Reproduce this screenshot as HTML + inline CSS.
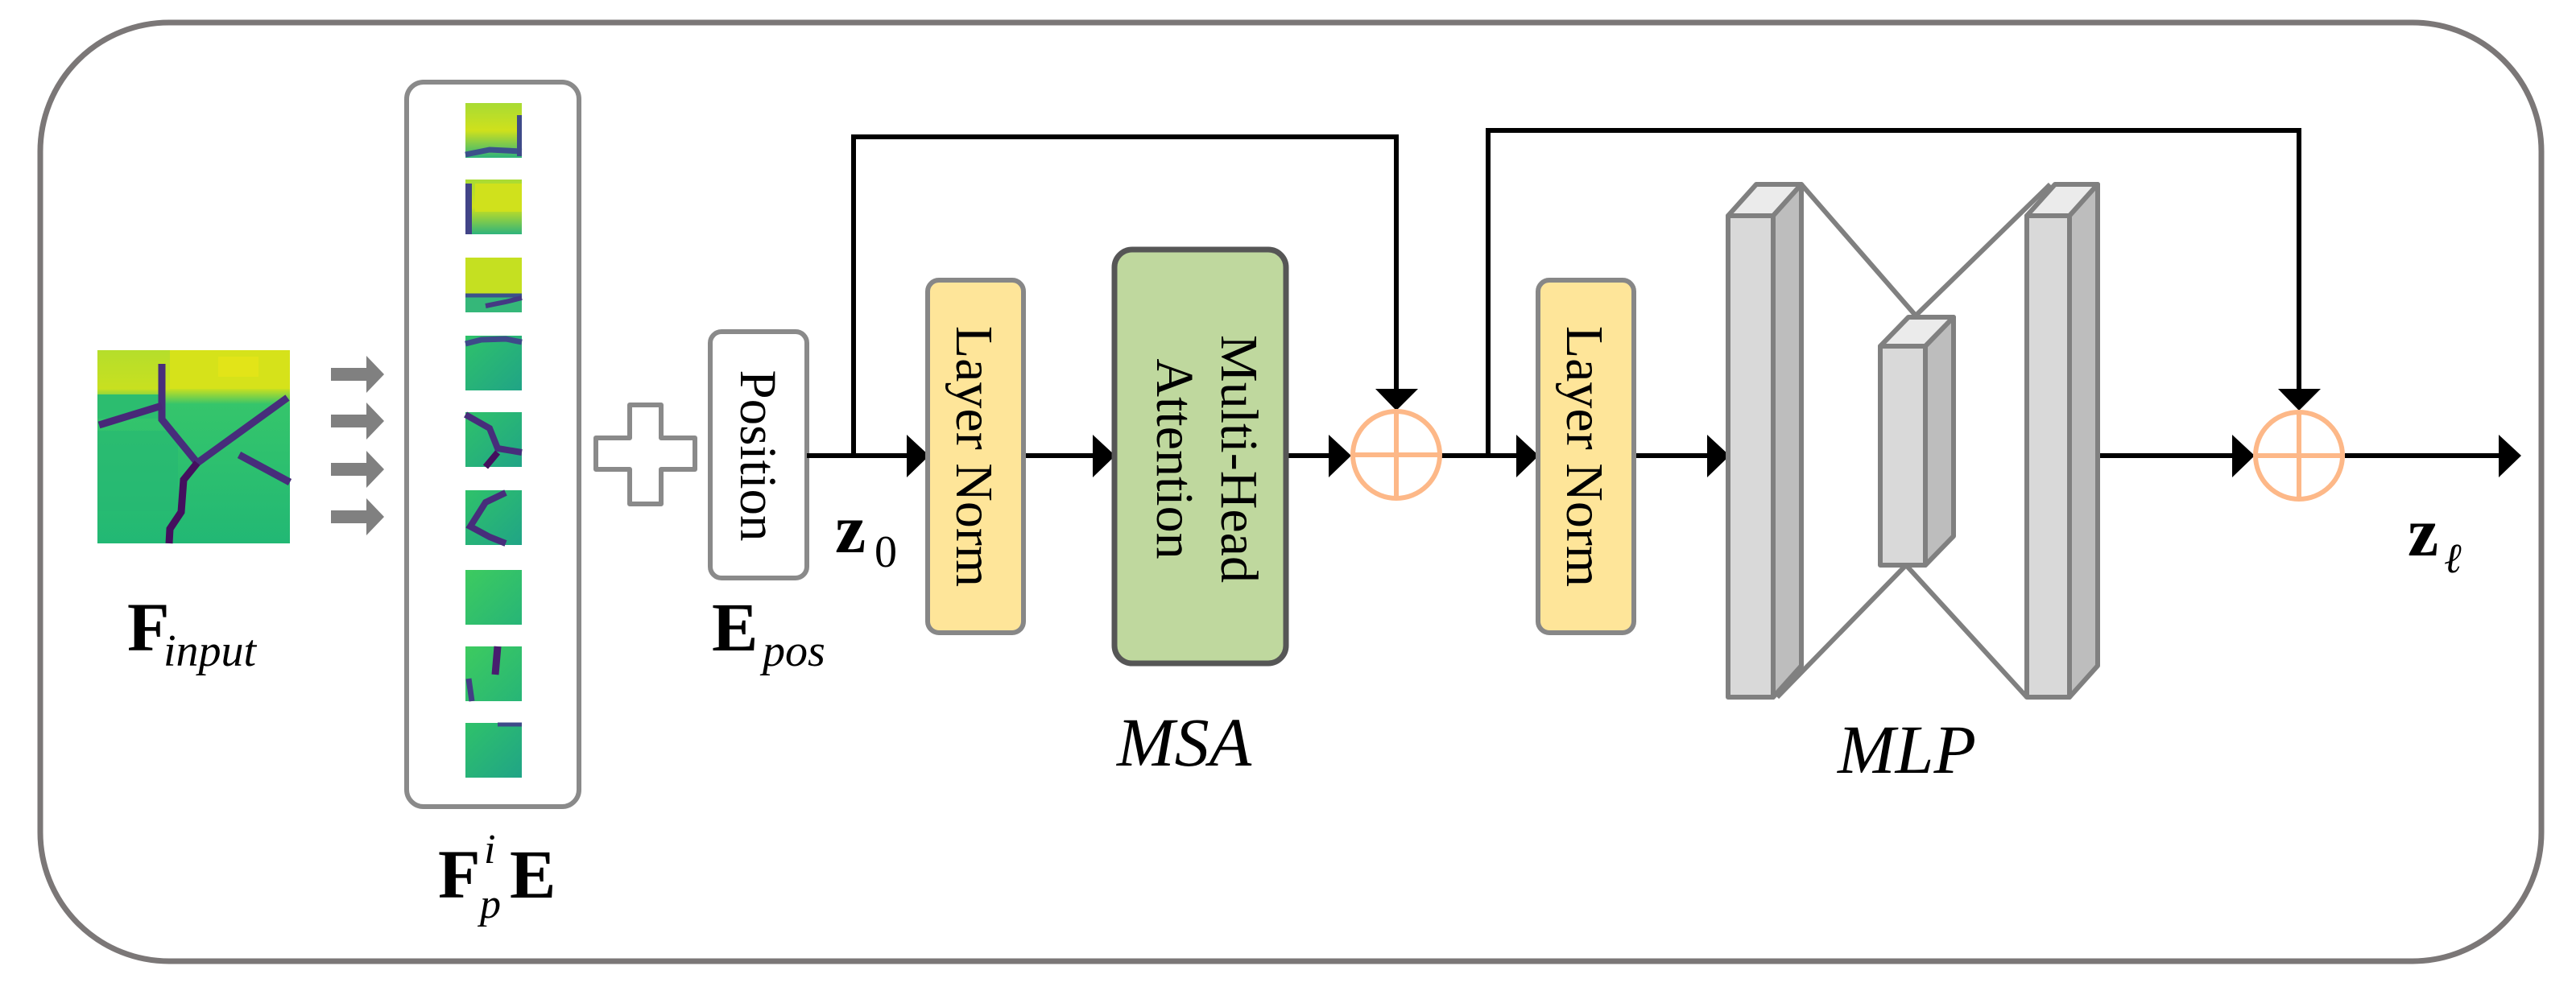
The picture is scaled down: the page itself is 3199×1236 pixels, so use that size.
<!DOCTYPE html>
<html><head><meta charset="utf-8"><style>
html,body{margin:0;padding:0;background:#fff;}
svg{display:block;}
text{font-family:"Liberation Serif","DejaVu Serif",serif;}
</style></head><body>
<svg width="3199" height="1236" viewBox="0 0 3199 1236" xmlns="http://www.w3.org/2000/svg">
<defs>
<linearGradient id="gIn" x1="0" y1="0" x2="0" y2="1">
<stop offset="0" stop-color="#b5de2b"/><stop offset="0.2" stop-color="#c8e020"/><stop offset="0.28" stop-color="#35c56b"/><stop offset="1" stop-color="#22b874"/></linearGradient>
<linearGradient id="gY" x1="0" y1="0" x2="0" y2="1">
<stop offset="0" stop-color="#a8db34"/><stop offset="0.5" stop-color="#cfe11c"/><stop offset="1" stop-color="#2fb47c"/></linearGradient>
<linearGradient id="gG" x1="0" y1="0" x2="1" y2="1">
<stop offset="0" stop-color="#2fc26a"/><stop offset="1" stop-color="#20a486"/></linearGradient>
<linearGradient id="gG2" x1="0" y1="0" x2="1" y2="1">
<stop offset="0" stop-color="#3dcb5f"/><stop offset="1" stop-color="#27b577"/></linearGradient>
</defs>
<rect x="50" y="28" width="3106" height="1166" rx="160" ry="160" fill="#fff" stroke="#7b7777" stroke-width="7"/>

<g transform="translate(121,435)">
<rect width="239" height="240" fill="url(#gIn)"/>
<rect x="90" y="0" width="149" height="48" fill="#d6e21a"/>
<rect x="150" y="8" width="50" height="25" fill="#e2e418"/>
<rect x="0" y="55" width="80" height="30" fill="#2cbd6f"/>
<rect x="0" y="100" width="100" height="100" fill="#26b873" opacity="0.6"/>
<polyline points="80,17 80,86 124,140 236,59" fill="none" stroke="#472d7b" stroke-width="9"/>
<polyline points="80,69 2,93" fill="none" stroke="#482878" stroke-width="9"/>
<polyline points="176,130 239,164" fill="none" stroke="#472d7b" stroke-width="9"/>
<polyline points="124,140 107,161 104,201 90,222 89,240" fill="none" stroke="#440f5e" stroke-width="9"/>
</g>

<g fill="#808080">
<path d="M411,457 h44 v-15 l22,23 l-22,23 v-15 h-44z"/>
<path d="M411,515 h44 v-15 l22,23 l-22,23 v-15 h-44z"/>
<path d="M411,575 h44 v-15 l22,23 l-22,23 v-15 h-44z"/>
<path d="M411,634 h44 v-15 l22,23 l-22,23 v-15 h-44z"/>
</g>
<text x="158" y="808" font-size="86" font-weight="bold">F</text>
<text x="203" y="827" font-size="56" font-style="italic">input</text>

<rect x="505" y="102" width="214" height="900" rx="21" fill="#fff" stroke="#8a8a8a" stroke-width="6"/>
<g transform="translate(578,128)"><rect width="70" height="68" fill="url(#gY)"/><polyline points="0,64 30,58 70,60" stroke="#3b518b" stroke-width="7" fill="none"/><polyline points="67,15 67,66" stroke="#3e4a89" stroke-width="6" fill="none"/></g>
<g transform="translate(578,223)"><rect width="70" height="68" fill="url(#gY)"/><rect x="12" y="5" width="58" height="35" fill="#d0e11c"/><polyline points="4,5 4,68" stroke="#414487" stroke-width="8" fill="none"/></g>
<g transform="translate(578,320)"><rect width="70" height="68" fill="#c5e021"/><rect x="0" y="45" width="70" height="23" fill="#35b779"/><polyline points="0,47 70,47" stroke="#3b518b" stroke-width="5" fill="none"/><polyline points="25,60 50,55 70,50" stroke="#443983" stroke-width="6" fill="none"/></g>
<g transform="translate(578,417)"><rect width="70" height="68" fill="url(#gG)"/><polyline points="0,10 20,5 50,4 70,8" stroke="#3e4a89" stroke-width="7" fill="none"/></g>
<g transform="translate(578,512)"><rect width="70" height="68" fill="url(#gG)"/><polyline points="0,3 30,20 40,45 70,50" stroke="#472d7b" stroke-width="8" fill="none"/><polyline points="40,50 25,68" stroke="#440f5e" stroke-width="8" fill="none"/></g>
<g transform="translate(578,609)"><rect width="70" height="68" fill="url(#gG)"/><polyline points="50,3 25,15 6,45 30,58 50,66" stroke="#472d7b" stroke-width="8" fill="none"/></g>
<g transform="translate(578,708)"><rect width="70" height="68" fill="url(#gG2)"/></g>
<g transform="translate(578,803)"><rect width="70" height="68" fill="url(#gG2)"/><polyline points="40,0 37,35" stroke="#481d6f" stroke-width="9" fill="none"/><polyline points="4,40 8,68" stroke="#433e85" stroke-width="7" fill="none"/></g>
<g transform="translate(578,898)"><rect width="70" height="68" fill="url(#gG)"/><polyline points="40,2 70,2" stroke="#3e4a89" stroke-width="5" fill="none"/></g>
<text x="544" y="1115" font-size="86" font-weight="bold">F</text>
<text x="601" y="1072" font-size="52" font-style="italic">i</text>
<text x="596" y="1140" font-size="52" font-style="italic">p</text>
<text x="633" y="1115" font-size="86" font-weight="bold">E</text>

<path d="M782,503 h39 v41 h42 v39 h-42 v43 h-39 v-43 h-42 v-39 h42z" fill="#fff" stroke="#8a8a8a" stroke-width="6" stroke-linejoin="round"/>

<rect x="882" y="412" width="120" height="306" rx="14" fill="#fff" stroke="#8a8a8a" stroke-width="6"/>
<text transform="translate(920,566) rotate(90)" text-anchor="middle" font-size="65">Position</text>
<text x="884" y="808" font-size="86" font-weight="bold">E</text>
<text x="947" y="827" font-size="56" font-style="italic">pos</text>
<text x="1037" y="686" font-size="86" font-weight="bold">z</text>
<text x="1086" y="704" font-size="56">0</text>

<g stroke="#000" stroke-width="6" fill="none">
<polyline points="1002,566 1130,566"/>
<polyline points="1060,566 1060,170 1734,170 1734,490"/>
<polyline points="1271,566 1360,566"/>
<polyline points="1597,566 1655,566"/>
<polyline points="1790,566 1888,566"/>
<polyline points="1848,566 1848,162 2855,162 2855,490"/>
<polyline points="2029,566 2124,566"/>
<polyline points="2605,566 2776,566"/>
<polyline points="2912,566 3108,566"/>
</g>
<g fill="#000">
<path d="M1126,540 L1154,566 L1126,593z"/>
<path d="M1357,540 L1385,566 L1357,593z"/>
<path d="M1650,540 L1678,566 L1650,593z"/>
<path d="M1883,540 L1911,566 L1883,593z"/>
<path d="M2120,540 L2148,566 L2120,593z"/>
<path d="M2772,540 L2800,566 L2772,593z"/>
<path d="M3103,540 L3131,566 L3103,593z"/>
<path d="M1708,483 L1761,483 L1734,510z"/>
<path d="M2829,483 L2882,483 L2855,510z"/>
</g>

<rect x="1152" y="348" width="119" height="438" rx="14" fill="#fee599" stroke="#878787" stroke-width="6"/>
<text transform="translate(1188,567) rotate(90)" text-anchor="middle" font-size="66">Layer Norm</text>
<rect x="1384" y="310" width="213" height="514" rx="22" fill="#bfd89e" stroke="#565656" stroke-width="7"/>
<text transform="translate(1517,570) rotate(90)" text-anchor="middle" font-size="66">Multi-Head</text>
<text transform="translate(1437,570) rotate(90)" text-anchor="middle" font-size="66">Attention</text>
<text x="1387" y="951" font-size="86" font-style="italic">MSA</text>

<g stroke="#fdb888" stroke-width="6" fill="none">
<ellipse cx="1734" cy="565" rx="54" ry="54"/>
<line x1="1734" y1="511" x2="1734" y2="619"/><line x1="1680" y1="565" x2="1788" y2="565"/>
<ellipse cx="2855" cy="566" rx="54" ry="54"/>
<line x1="2855" y1="512" x2="2855" y2="620"/><line x1="2801" y1="566" x2="2909" y2="566"/>
</g>

<rect x="1910" y="348" width="119" height="438" rx="14" fill="#fee599" stroke="#878787" stroke-width="6"/>
<text transform="translate(1946,567) rotate(90)" text-anchor="middle" font-size="66">Layer Norm</text>

<g stroke="#808080" stroke-width="6" stroke-linejoin="round">
<line x1="2237" y1="229" x2="2379" y2="392"/>
<line x1="2379" y1="392" x2="2546" y2="229"/>
<line x1="2207" y1="866" x2="2367" y2="702"/>
<line x1="2367" y1="702" x2="2517" y2="866"/>
<path d="M2146,268 L2181,229 L2237,229 L2202,268z" fill="#ebebeb"/>
<path d="M2202,268 L2237,229 L2237,827 L2202,866z" fill="#bdbdbd"/>
<rect x="2146" y="268" width="56" height="598" fill="#d9d9d9"/>
<path d="M2335,430 L2370,394 L2426,394 L2391,430z" fill="#ebebeb"/>
<path d="M2391,430 L2426,394 L2426,666 L2391,702z" fill="#bdbdbd"/>
<rect x="2335" y="430" width="56" height="272" fill="#d9d9d9"/>
<path d="M2517,268 L2552,229 L2605,229 L2570,268z" fill="#ebebeb"/>
<path d="M2570,268 L2605,229 L2605,827 L2570,866z" fill="#bdbdbd"/>
<rect x="2517" y="268" width="53" height="598" fill="#d9d9d9"/>
</g>
<text x="2282" y="960" font-size="86" font-style="italic">MLP</text>

<text x="2990" y="690" font-size="86" font-weight="bold">z</text>
<text x="3035" y="711" font-size="52" font-style="italic">ℓ</text>
</svg>
</body></html>
